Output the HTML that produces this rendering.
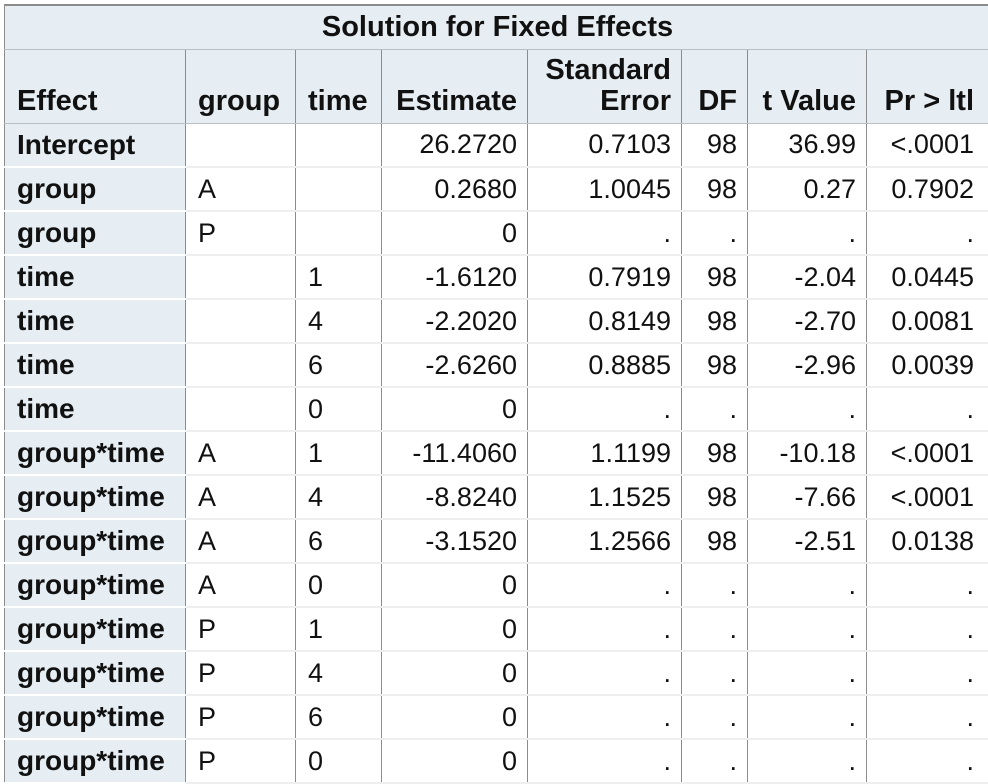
<!DOCTYPE html>
<html><head><meta charset="utf-8"><style>
html,body{margin:0;padding:0;background:#fff;width:988px;height:784px;overflow:hidden}
table{position:absolute;left:4px;top:4px;border-collapse:collapse;table-layout:fixed;width:986px;font-family:"Liberation Sans",Arial,sans-serif;color:#111}
td,th{padding:0 10px;border-left:1px solid #8c8c8c;border-right:1px solid #8c8c8c;box-sizing:border-box;white-space:nowrap;overflow:hidden}
th{background:#e6eef3;font-weight:bold;font-size:29px;border-bottom:1px solid #b8c0c6;border-top:1px solid #b8c0c6}
.title th{height:44px;text-align:center;border-top:2px solid #8c8c8c}
.head th{height:74px;vertical-align:bottom;padding-bottom:6px;line-height:31px}
.head th.l{text-align:left;padding-left:12px}
.head th.r{text-align:right}
td{height:44px;font-size:27px;border-bottom:2px solid #eeeeee;text-align:right}
td.e{background:#e6eef3;font-weight:bold;font-size:28px;text-align:left;padding-left:12px;border-bottom:2px solid #fff}
td.c{text-align:left;padding-left:12px}
tr td:last-child,.head th:last-child{padding-right:16px}
</style></head><body>
<table>
<colgroup><col style="width:181px"><col style="width:110px"><col style="width:86px"><col style="width:146px"><col style="width:154px"><col style="width:66px"><col style="width:119px"><col style="width:124px"></colgroup>
<tr class="title"><th colspan="8">Solution for Fixed Effects</th></tr>
<tr class="head">
<th class="l">Effect</th>
<th class="l">group</th>
<th class="l">time</th>
<th class="r">Estimate</th>
<th class="r">Standard<br>Error</th>
<th class="r">DF</th>
<th class="r">t Value</th>
<th class="r">Pr &gt; ltl</th>
</tr>
<tbody id="body"></tbody>
</table>
<script>
const effects=["Intercept","group","group","time","time","time","time","group*time","group*time","group*time","group*time","group*time","group*time","group*time","group*time"];
const groups=["","A","P","","","","","A","A","A","A","P","P","P","P"];
const times=["","","","1","4","6","0","1","4","6","0","1","4","6","0"];
const estimates=["26.2720","0.2680","0","-1.6120","-2.2020","-2.6260","0","-11.4060","-8.8240","-3.1520","0","0","0","0","0"];
const stderrs=["0.7103","1.0045",".","0.7919","0.8149","0.8885",".","1.1199","1.1525","1.2566",".",".",".",".","."];
const dfs=["98","98",".","98","98","98",".","98","98","98",".",".",".",".","."];
const tvals=["36.99","0.27",".","-2.04","-2.70","-2.96",".","-10.18","-7.66","-2.51",".",".",".",".","."];
const pvals=["<.0001","0.7902",".","0.0445","0.0081","0.0039",".","<.0001","<.0001","0.0138",".",".",".",".","."];
const body=document.getElementById('body');
for(let i=0;i<effects.length;i++){
  const tr=document.createElement('tr');
  
  
  const vals=[effects[i],groups[i],times[i],estimates[i],stderrs[i],dfs[i],tvals[i],pvals[i]];
  const names=['effect-cell','group-cell','time-cell','estimate-cell','standard-error-cell','df-cell','t-value-cell','p-value-cell'];
  vals.forEach((v,j)=>{
    const td=document.createElement('td');
    
    
    if(j===0)td.className='e';else if(j<3)td.className='c';
    td.textContent=v;
    tr.appendChild(td);
  });
  body.appendChild(tr);
}
</script>
</body></html>
